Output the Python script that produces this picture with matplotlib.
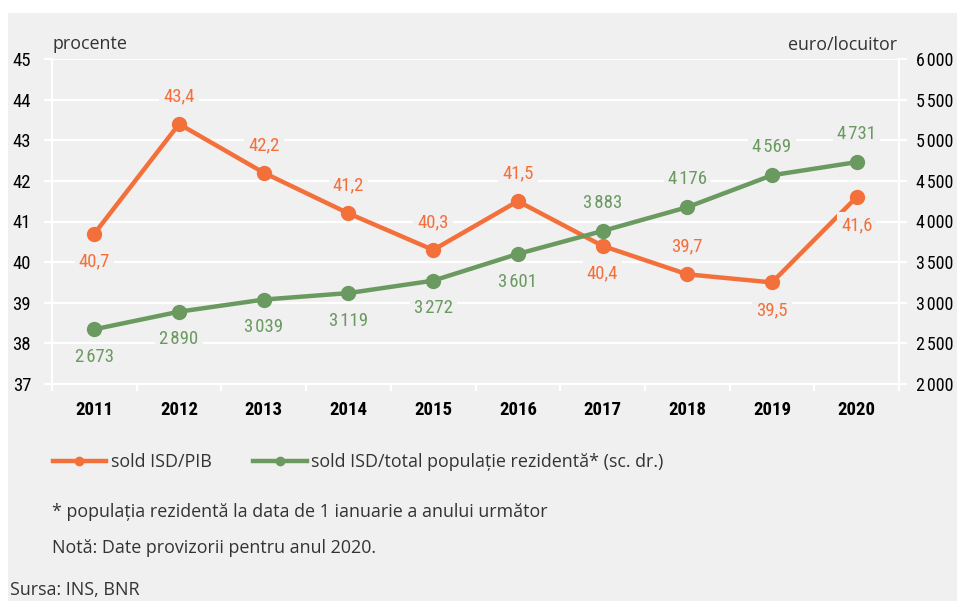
import matplotlib.pyplot as plt
from matplotlib import font_manager as fm
from matplotlib.patches import Rectangle
from matplotlib.lines import Line2D

# date
ani = ['2011', '2012', '2013', '2014', '2015', '2016', '2017', '2018', '2019', '2020']
sold_pib = [40.7, 43.4, 42.2, 41.2, 40.3, 41.5, 40.4, 39.7, 39.5, 41.6]
sold_loc = [2673, 2890, 3039, 3119, 3272, 3601, 3883, 4176, 4569, 4731]
# pozitia etichetelor: 1 = deasupra, -1 = dedesubt
poz_pib = [-1, 1, 1, 1, 1, 1, -1, 1, -1, -1]
poz_loc = [-1, -1, -1, -1, -1, -1, 1, 1, 1, 1]

portocaliu = '#f3703b'
verde = '#6a9a60'
fundal = '#f0f0f0'
text_gri = '#333333'

# cauta un font ingust (condensed) instalat, altfel Roboto
fonturi = fm.fontManager.ttflist
nume = {f.name for f in fonturi}
narrow_fam, narrow_str = 'Roboto', 'normal'
for cand in ['Liberation Sans Narrow', 'Roboto Condensed', 'Open Sans Condensed',
             'Noto Sans Condensed', 'Arial Narrow', 'DejaVu Sans Condensed']:
    if cand in nume:
        narrow_fam = cand
        break
else:
    for pref in ['Noto Sans', 'Open Sans', 'DejaVu Sans', 'Roboto']:
        ingust = [f for f in fonturi if f.name == pref and str(f.stretch) in
                  ('condensed', 'semi-condensed', 'extra-condensed')]
        if ingust:
            narrow_fam, narrow_str = pref, ingust[0].stretch
            break

plt.rcParams['font.family'] = [narrow_fam, 'DejaVu Sans']
plt.rcParams['font.stretch'] = narrow_str

light = ['Open Sans', 'DejaVu Sans']
fs_text = 12.9

def fmt_pct(v):
    return f'{v:.1f}'.replace('.', ',')

def fmt_mii(v):
    return f'{v:,.0f}'.replace(',', '\u200a')

fig = plt.figure(figsize=(9.57, 6.01), dpi=100, facecolor='white')
fig.patches.append(Rectangle((8 / 957, 0), 1, 1 - 13 / 601, transform=fig.transFigure,
                             facecolor=fundal, edgecolor='none', zorder=-5))

ax = fig.add_axes([52 / 957, 1 - 384 / 601, 847 / 957, 325 / 601])
ax2 = ax.twinx()
ax.set_facecolor(fundal)
x = list(range(len(ani)))

ax.set_xlim(-0.5, 9.5)
ax.set_ylim(37, 45)
ax2.set_ylim(2000, 6000)
ax.set_yticks(range(37, 46))
ax2.set_yticks(range(2000, 6001, 500))
ax2.set_yticklabels([fmt_mii(v) for v in range(2000, 6001, 500)])

ax.grid(axis='y', color='white', linewidth=1.6, zorder=1)
ax.set_axisbelow(True)
for a in (ax, ax2):
    for s in a.spines.values():
        s.set_visible(False)
for a, side in ((ax, 'left'), (ax, 'bottom'), (ax2, 'right')):
    a.spines[side].set_visible(True)
    a.spines[side].set_color('white')
    a.spines[side].set_linewidth(1.6)

ax.set_xticks(x)
ax.set_xticklabels(ani, fontweight='bold')
ax.set_xticks([i - 0.5 for i in range(11)], minor=True)
ax.tick_params(axis='x', which='major', length=0, pad=12, labelsize=13.5)
ax.tick_params(axis='x', which='minor', length=5, width=1.6, color='white')
ax.tick_params(axis='y', length=6, width=1.6, color='white', pad=9, labelsize=13.5)
ax2.tick_params(axis='y', length=6, width=1.6, color='white', pad=6, labelsize=13)

ax.plot(x, sold_pib, color=portocaliu, linewidth=3.2, marker='o', markersize=10, zorder=4)
ax2.plot(x, sold_loc, color=verde, linewidth=3.2, marker='o', markersize=10, zorder=4)

box = dict(facecolor=fundal, edgecolor='none', pad=3)
for xi, v, p in zip(x, sold_pib, poz_pib):
    ax.annotate(fmt_pct(v), (xi, v), xytext=(0, 20 * p), textcoords='offset points',
                ha='center', va='center', color=portocaliu, fontsize=13.5,
                bbox=box, zorder=5)
for xi, v, p in zip(x, sold_loc, poz_loc):
    ax2.annotate(fmt_mii(v), (xi, v), xytext=(0, 20 * p), textcoords='offset points',
                 ha='center', va='center', color=verde, fontsize=13.5,
                 bbox=box, zorder=5)

fig.text(52 / 957, 1 - 44 / 601, 'procente', fontfamily=light, fontstretch='normal',
         fontsize=fs_text, color=text_gri, va='center', ha='left')
fig.text(897 / 957, 1 - 45 / 601, 'euro/locuitor', fontfamily=light, fontstretch='normal',
         fontsize=fs_text, color=text_gri, va='center', ha='right')

handles = [Line2D([], [], color=portocaliu, linewidth=3.2, marker='o', markersize=6),
           Line2D([], [], color=verde, linewidth=3.2, marker='o', markersize=6)]
fig.legend(handles, ['sold ISD/PIB', 'sold ISD/total populație rezidentă* (sc. dr.)'],
           loc='center left', bbox_to_anchor=(49 / 957, 1 - 462 / 601), ncol=2,
           frameon=False, handlelength=3.0, handletextpad=0.25, columnspacing=2.3,
           borderaxespad=0, borderpad=0.2,
           prop={'family': light, 'stretch': 'normal', 'size': fs_text}, labelcolor=text_gri)

for ytxt, xtxt, s in [(512, 52, '* populația rezidentă la data de 1 ianuarie a anului următor'),
                      (548, 52, 'Notă: Date provizorii pentru anul 2020.'),
                      (590, 10, 'Sursa: INS, BNR')]:
    fig.text(xtxt / 957, 1 - ytxt / 601, s, fontfamily=light, fontstretch='normal',
             fontsize=fs_text, color=text_gri, va='center')

fig.savefig('out.png', dpi=100, facecolor='white')
